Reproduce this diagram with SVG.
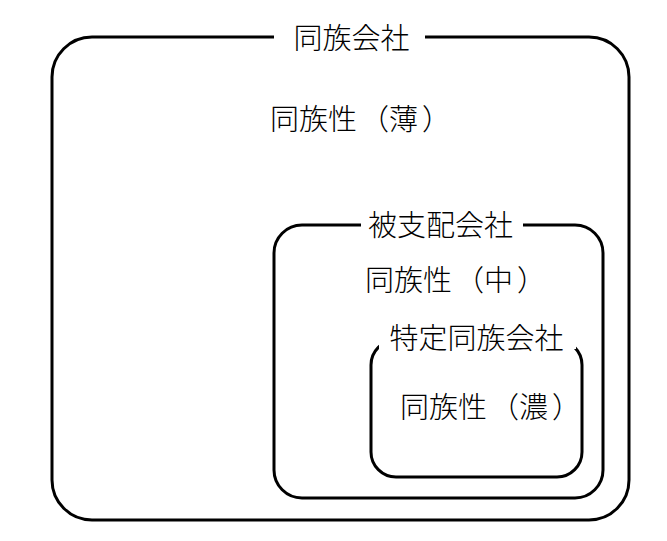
<svg xmlns="http://www.w3.org/2000/svg" width="667" height="541" viewBox="0 0 667 541">
<style>
.box{fill:none;stroke:#000;stroke-width:3}
.bg{fill:#fff;stroke:none}
.t{font-family:"Noto Sans CJK JP","Noto Sans CJK SC",sans-serif;font-size:29px;font-weight:300;fill:#000}
.m{text-anchor:middle}
</style>
<rect width="667" height="541" fill="#fff"/>
<g id="outer">
<rect class="box" x="52" y="37" width="577" height="483" rx="40" ry="40"/>
<rect class="bg" x="274" y="20" width="151" height="30"/>
<text class="t m" x="351.5" y="48.5">同族会社</text>
<text class="t" x="270" y="129.5">同族性<tspan dx="3">（</tspan>薄<tspan dx="4">）</tspan></text>
</g>
<g id="middle">
<rect class="box" x="274" y="225" width="329" height="273" rx="28" ry="28"/>
<rect class="bg" x="361" y="208" width="162" height="30"/>
<text class="t m" x="440.5" y="236">被支配会社</text>
<text class="t" x="365" y="291">同族性<tspan dx="3">（</tspan>中<tspan dx="4">）</tspan></text>
</g>
<g id="inner">
<rect class="box" x="371" y="340" width="211" height="137" rx="25" ry="25"/>
<rect class="bg" x="379" y="320" width="197" height="29"/>
<text class="t m" x="476.5" y="349">特定同族会社</text>
<text class="t" x="400" y="417.5">同族性<tspan dx="3">（</tspan>濃<tspan dx="4">）</tspan></text>
</g>
<g id="connectors"/>
</svg>
